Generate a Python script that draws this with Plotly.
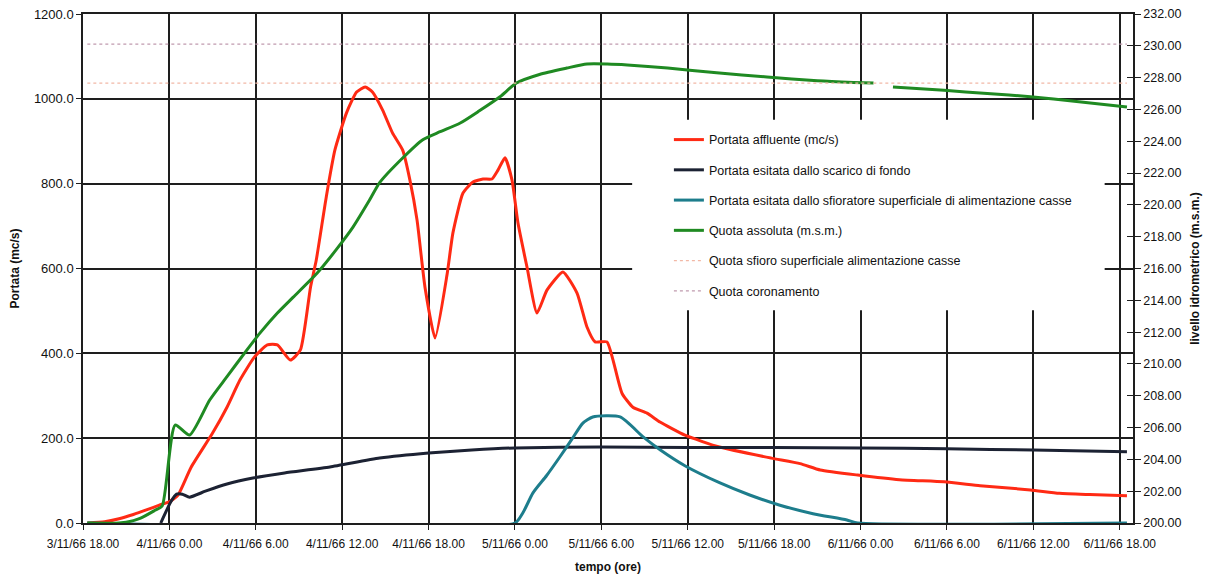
import plotly.graph_objects as go

# ---- tick labels (hours after 3/11/66 18.00) ----
tick_hours = [0, 6, 12, 18, 24, 30, 36, 42, 48, 54, 60, 66, 72]
tick_labels = ["3/11/66 18.00", "4/11/66 0.00", "4/11/66 6.00", "4/11/66 12.00",
               "4/11/66 18.00", "5/11/66 0.00", "5/11/66 6.00", "5/11/66 12.00",
               "5/11/66 18.00", "6/11/66 0.00", "6/11/66 6.00", "6/11/66 12.00",
               "6/11/66 18.00"]

# ---- Portata affluente (mc/s) ----
affl_h = [0.3, 1.5, 2.5, 3.5, 4.5, 5.3, 6.0, 6.6, 7.5, 9.0, 10.0, 10.9, 11.9, 12.8,
          13.5, 14.4, 15.1, 15.8, 16.2, 16.9, 17.5, 18.3, 19.0, 19.6, 20.1, 20.8,
          21.5, 22.2, 22.7, 23.2, 23.75, 24.45, 25.28, 25.69, 26.39, 27.08, 27.78,
          28.4, 28.82, 29.31, 29.79, 30.21, 30.83, 31.53, 32.22, 33.33, 34.31, 35.0,
          35.56, 36.39, 36.81, 37.43, 38.19, 39.17, 40.07, 41.8, 44.2, 47.8, 49.8,
          51.2, 53.8, 56.7, 59.8, 62.3, 65.8, 67.8, 69.9, 72.5]
affl_v = [0, 3, 10, 20, 32, 42, 50, 66, 131, 212, 273, 337, 391, 420,
          420, 384, 408, 556, 620, 770, 880, 967, 1016, 1028, 1016, 974,
          919, 879, 809, 714, 556, 436, 585, 684, 778, 804, 811,
          811, 832, 861, 809, 707, 604, 495, 549, 592, 542, 462,
          427, 427, 384, 306, 273, 259, 238, 207, 179, 153, 140,
          125, 113, 102, 97, 88, 78, 70, 67, 64]

# ---- Portata esitata dallo scarico di fondo ----
fondo_h = [5.4, 6.1, 6.5, 6.9, 7.4, 8.5, 10.0, 11.8, 14.0, 17.15, 20.6, 24.0, 27.0,
           30.0, 36.0, 42.0, 48.0, 54.0, 60.0, 66.0, 72.5]
fondo_v = [0, 50, 68, 68, 61, 75, 92, 106, 118, 132, 153, 165, 172,
           177, 179, 178, 178, 177, 175, 172, 168]

# ---- Portata esitata dallo sfioratore superficiale ----
sfior_h = [0.3, 30.0, 30.55, 31.25, 32.2, 33.1, 34.0, 34.7, 35.4, 37.3, 38.9, 40.1,
           41.8, 44.2, 46.3, 48.4, 50.7, 53.05, 53.8, 72.5]
sfior_v = [0, 0, 24, 71, 112, 155, 200, 235, 250, 250, 203, 172,
           135, 95, 66, 42, 22, 7, 0, 0]

# ---- Quota assoluta (m.s.m.) ----
quota_h = [0.3, 2.5, 3.5, 4.0, 5.0, 5.5, 6.4, 7.4, 8.8, 10.0, 11.4, 12.3, 13.5, 14.6,
           16.25, 17.6, 18.75, 19.9, 20.6, 22.2, 23.6, 24.8, 26.2, 27.5, 28.96,
           30.1, 31.7, 33.6, 35.0, 36.4, 37.8, 40.6, 44.0, 47.5, 51.0, 53.5, 54.9,
           None, 56.25, 59.8, 62.8, 65.8, 69.0, 72.5]
quota_v = [200.0, 200.0, 200.15, 200.3, 200.8, 201.07, 206.16, 205.53, 207.73,
           209.2, 210.9, 211.95, 213.2, 214.2, 215.7, 217.2, 218.6, 220.3, 221.4,
           222.95, 224.1, 224.6, 225.15, 225.9, 226.8, 227.66, 228.2, 228.6,
           228.86, 228.86, 228.8, 228.6, 228.3, 228.04, 227.8, 227.7, 227.66,
           None, 227.41, 227.2, 227.0, 226.8, 226.5, 226.15]

# ---- reference levels ----
line_h = [0.3, 72.5]
quota_sfioro = 227.66
quota_coronamento = 230.1

FONT = "Liberation Sans, Arial, sans-serif"

fig = go.Figure()
fig.add_trace(go.Scatter(x=affl_h, y=affl_v, mode="lines", name="Portata affluente (mc/s)",
                         line=dict(color="#ff2a14", width=3, shape="spline", smoothing=0.5),
                         legendgroup="a"))
fig.add_trace(go.Scatter(x=fondo_h, y=fondo_v, mode="lines",
                         name="Portata esitata dallo scarico di fondo",
                         line=dict(color="#1c2233", width=3, shape="spline", smoothing=0.5),
                         legendgroup="b"))
fig.add_trace(go.Scatter(x=sfior_h, y=sfior_v, mode="lines",
                         name="Portata esitata dallo sfioratore superficiale di alimentazione casse",
                         line=dict(color="#1d7d8c", width=3, shape="spline", smoothing=0.6),
                         legendgroup="c"))
fig.add_trace(go.Scatter(x=quota_h, y=quota_v, mode="lines", name="Quota assoluta (m.s.m.)",
                         line=dict(color="#1f8a22", width=3, shape="spline", smoothing=0.6),
                         yaxis="y2", connectgaps=False, legendgroup="d"))
fig.add_trace(go.Scatter(x=line_h, y=[quota_sfioro, quota_sfioro], mode="lines",
                         name="Quota sfioro superficiale alimentazione casse",
                         line=dict(color="#f2b8a6", width=1.2, dash="dot"), yaxis="y2",
                         legendgroup="e"))
fig.add_trace(go.Scatter(x=line_h, y=[quota_coronamento, quota_coronamento], mode="lines",
                         name="Quota coronamento",
                         line=dict(color="#c09aae", width=1.2, dash="dot"), yaxis="y2",
                         legendgroup="f"))
# helper trace for inner half of the crossing ticks on the right axis
fig.add_trace(go.Scatter(x=[0], y=[200], mode="markers", marker=dict(opacity=0),
                         yaxis="y3", showlegend=False, hoverinfo="skip"))

grid_col = "#1e1e1e"
fig.update_layout(
    width=1211, height=579,
    margin=dict(l=83, r=78, t=14, b=56, autoexpand=False),
    paper_bgcolor="white", plot_bgcolor="white",
    font=dict(family=FONT, size=12, color="#111"),
    showlegend=True,
    xaxis=dict(range=[0, 72.92], tickvals=tick_hours, ticktext=tick_labels,
               showgrid=True, gridcolor=grid_col, gridwidth=1.5,
               showline=True, linecolor=grid_col, linewidth=1.5, mirror=True,
               ticks="outside", ticklen=5, tickcolor=grid_col, ticklabelstandoff=4,
               tickfont=dict(size=12), zeroline=False, automargin=False,
               title=dict(text="<b>tempo (ore)</b>", font=dict(size=12), standoff=12)),
    yaxis=dict(range=[0, 1200], tickvals=[0, 200, 400, 600, 800, 1000, 1200],
               tickformat=".1f", showgrid=True, gridcolor=grid_col, gridwidth=1.5,
               showline=True, linecolor=grid_col, linewidth=1.5,
               ticks="outside", ticklen=5, tickcolor=grid_col, automargin=False,
               tickfont=dict(size=13), zeroline=False,
               title=dict(text="<b>Portata (mc/s)</b>", font=dict(size=12), standoff=12)),
    yaxis2=dict(range=[200, 232], tickvals=list(range(200, 233, 2)), tickformat=".2f",
                overlaying="y", side="right", showgrid=False, automargin=False,
                showline=True, linecolor=grid_col, linewidth=1.5,
                ticks="outside", ticklen=6, tickcolor=grid_col,
                tickfont=dict(size=12.5), zeroline=False,
                title=dict(text="<b>livello idrometrico (m.s.m.)</b>", font=dict(size=12),
                           standoff=10)),
    yaxis3=dict(range=[200, 232], tickvals=list(range(200, 233, 2)),
                overlaying="y", side="right", showgrid=False, showline=False,
                ticks="inside", ticklen=6, tickcolor=grid_col, showticklabels=False,
                zeroline=False, automargin=False),
    legend=dict(x=0.558, y=0.782, xanchor="left", yanchor="top",
                bgcolor="rgba(255,255,255,0)", borderwidth=0,
                font=dict(size=12.5, color="#111"), tracegroupgap=11,
                traceorder="grouped"),
    shapes=[dict(type="rect", xref="paper", yref="paper", x0=0.523, x1=0.973,
                 y0=0.418, y1=0.792, fillcolor="white", line=dict(width=0),
                 layer="above")],
)

fig.write_html("out.html")
